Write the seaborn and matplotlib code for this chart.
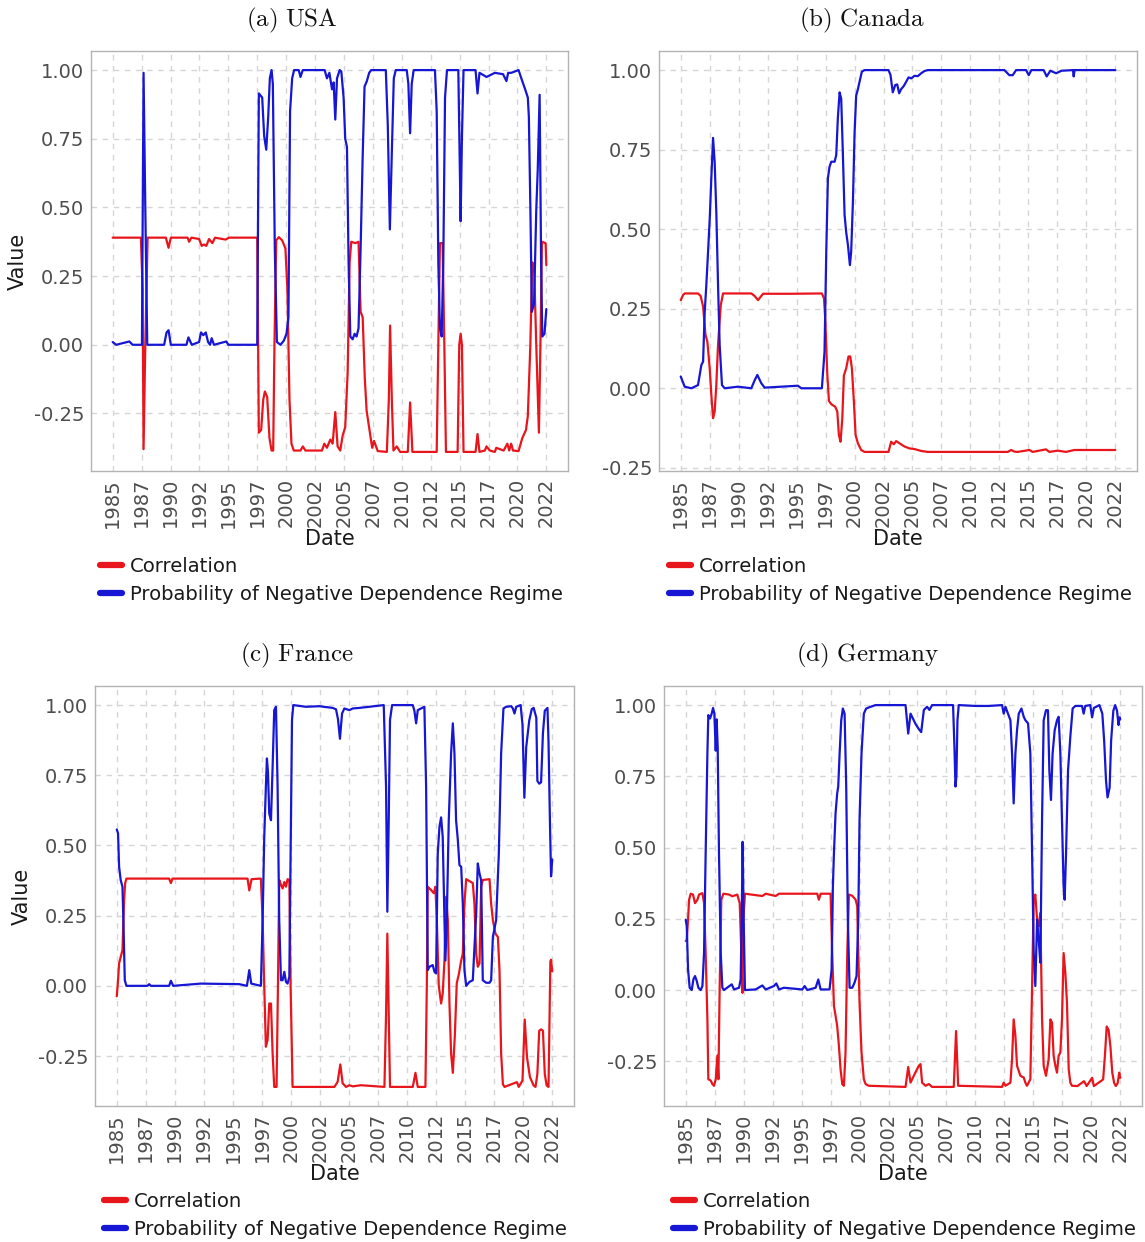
import pandas as pd
import matplotlib
matplotlib.use("Agg")
import matplotlib.pyplot as plt
import seaborn as sns
from matplotlib.lines import Line2D
from matplotlib.ticker import FormatStrFormatter

# Setting plot style
sns.set_style("whitegrid")
plt.rcParams["font.family"] = ["DejaVu Sans"]
plt.rcParams["mathtext.fontset"] = "cm"

# ---------- data: (decimal year, value) ----------

usa_corr = [
    (1985.00, 0.39), (1987.44, 0.39), (1987.59, 0.20), (1987.67, -0.38), (1987.82, 0.00), (1988.02, 0.39),
    (1989.60, 0.39), (1989.83, 0.353), (1990.03, 0.39), (1991.47, 0.39), (1991.61, 0.375), (1991.81, 0.39),
    (1992.47, 0.385), (1992.70, 0.36), (1992.90, 0.365), (1993.10, 0.36), (1993.33, 0.385), (1993.62, 0.37),
    (1993.85, 0.39), (1994.77, 0.383), (1995.06, 0.39), (1997.50, 0.39), (1997.64, -0.32), (1997.84, -0.31),
    (1998.02, -0.20), (1998.16, -0.17), (1998.36, -0.19), (1998.56, -0.34), (1998.74, -0.385), (1998.88, -0.385),
    (1998.99, 0.00), (1999.14, 0.38), (1999.37, 0.392), (1999.66, 0.38), (1999.94, 0.35), (2000.11, 0.20),
    (2000.29, -0.20), (2000.46, -0.36), (2000.66, -0.385), (2001.24, -0.385), (2001.44, -0.37), (2001.67, -0.385),
    (2003.10, -0.385), (2003.30, -0.36), (2003.53, -0.375), (2003.82, -0.345), (2004.02, -0.36), (2004.25, -0.245),
    (2004.45, -0.37), (2004.68, -0.385), (2004.89, -0.33), (2005.11, -0.30), (2005.32, -0.10), (2005.49, 0.30),
    (2005.63, 0.375), (2005.98, 0.37), (2006.26, 0.375), (2006.44, 0.12), (2006.62, 0.10), (2006.80, -0.12),
    (2006.96, -0.24), (2007.28, -0.33), (2007.44, -0.375), (2007.60, -0.35), (2007.92, -0.387), (2008.71, -0.39),
    (2008.88, -0.20), (2008.99, 0.07), (2009.14, -0.20), (2009.28, -0.385), (2009.57, -0.37), (2009.86, -0.39),
    (2010.52, -0.39), (2010.72, -0.21), (2010.92, -0.39), (2013.02, -0.39), (2013.16, 0.00), (2013.30, 0.37),
    (2013.53, 0.37), (2013.68, 0.00), (2013.82, -0.39), (2014.83, -0.39), (2014.97, 0.00), (2015.09, 0.04),
    (2015.20, 0.00), (2015.34, -0.39), (2016.38, -0.39), (2016.55, -0.325), (2016.72, -0.39), (2017.18, -0.385),
    (2017.33, -0.37), (2017.61, -0.385), (2018.05, -0.39), (2018.17, -0.375), (2018.81, -0.385), (2019.13, -0.36),
    (2019.29, -0.385), (2019.46, -0.36), (2019.62, -0.385), (2020.10, -0.387), (2020.42, -0.34), (2020.74, -0.31),
    (2020.90, -0.26), (2021.12, 0.00), (2021.28, 0.30), (2021.44, 0.29), (2021.63, 0.00), (2021.86, -0.32),
    (2021.99, 0.00), (2022.12, 0.375), (2022.44, 0.37), (2022.50, 0.29),
]
usa_prob = [
    (1985.00, 0.01), (1985.30, 0.0), (1986.44, 0.012), (1986.72, 0.0), (1987.53, 0.0), (1987.67, 0.99),
    (1987.82, 0.5), (1987.99, 0.0), (1989.45, 0.0), (1989.66, 0.045), (1989.83, 0.053), (1990.03, 0.0),
    (1991.38, 0.0), (1991.55, 0.027), (1991.84, 0.0), (1992.47, 0.01), (1992.64, 0.045), (1992.84, 0.035),
    (1993.05, 0.045), (1993.25, 0.01), (1993.42, 0.0), (1993.56, 0.024), (1993.76, 0.0), (1994.83, 0.012),
    (1995.00, 0.0), (1997.50, 0.0), (1997.64, 0.915), (1997.93, 0.90), (1998.10, 0.76), (1998.28, 0.71),
    (1998.45, 0.83), (1998.59, 0.97), (1998.74, 1.0), (1998.85, 0.95), (1999.02, 0.35), (1999.20, 0.01),
    (1999.51, 0.0), (1999.80, 0.015), (2000.03, 0.04), (2000.20, 0.10), (2000.34, 0.85), (2000.52, 0.97),
    (2000.69, 1.0), (2001.09, 1.0), (2001.24, 0.975), (2001.44, 1.0), (2003.33, 1.0), (2003.53, 0.97),
    (2003.74, 0.99), (2003.97, 0.93), (2004.11, 0.955), (2004.25, 0.82), (2004.40, 0.97), (2004.63, 1.0),
    (2004.77, 0.995), (2004.97, 0.90), (2005.11, 0.75), (2005.26, 0.72), (2005.40, 0.30), (2005.55, 0.03),
    (2005.75, 0.02), (2005.92, 0.04), (2006.09, 0.03), (2006.26, 0.06), (2006.44, 0.35), (2006.61, 0.67),
    (2006.78, 0.94), (2006.98, 0.96), (2007.18, 0.99), (2007.36, 1.0), (2008.62, 1.0), (2008.79, 0.80),
    (2008.97, 0.42), (2009.14, 0.70), (2009.31, 0.97), (2009.48, 1.0), (2010.43, 1.0), (2010.57, 0.95),
    (2010.72, 0.77), (2010.86, 0.95), (2011.03, 1.0), (2012.87, 1.0), (2013.02, 0.85), (2013.16, 0.30),
    (2013.30, 0.06), (2013.45, 0.03), (2013.59, 0.30), (2013.74, 0.90), (2013.91, 1.0), (2014.89, 1.0),
    (2015.00, 0.70), (2015.09, 0.45), (2015.20, 0.75), (2015.34, 1.0), (2016.38, 1.0), (2016.55, 0.915),
    (2016.72, 0.99), (2017.33, 0.975), (2018.05, 0.99), (2018.76, 0.985), (2019.05, 0.96), (2019.20, 0.99),
    (2019.46, 0.99), (2020.10, 1.0), (2020.42, 0.96), (2020.67, 0.93), (2020.90, 0.90), (2020.99, 0.83),
    (2021.12, 0.50), (2021.25, 0.12), (2021.44, 0.15), (2021.63, 0.49), (2021.76, 0.64), (2021.92, 0.91),
    (2022.05, 0.30), (2022.15, 0.03), (2022.34, 0.04), (2022.50, 0.13),
]

can_corr = [
    (1985.00, 0.277), (1985.20, 0.293), (1985.34, 0.298), (1986.49, 0.298), (1986.72, 0.29), (1986.93, 0.257),
    (1987.13, 0.17), (1987.30, 0.146), (1987.50, 0.063), (1987.64, -0.02), (1987.79, -0.094), (1987.93, -0.073),
    (1988.07, 0.01), (1988.22, 0.136), (1988.45, 0.26), (1988.65, 0.298), (1991.09, 0.298), (1991.38, 0.29),
    (1991.67, 0.277), (1992.10, 0.297), (1994.54, 0.297), (1997.18, 0.298), (1997.36, 0.283), (1997.47, 0.22),
    (1997.64, 0.05), (1997.79, -0.04), (1997.99, -0.05), (1998.33, -0.058), (1998.51, -0.073), (1998.65, -0.147),
    (1998.79, -0.168), (1998.94, -0.097), (1999.08, 0.04), (1999.28, 0.063), (1999.48, 0.10), (1999.63, 0.10),
    (1999.77, 0.063), (1999.94, -0.04), (2000.09, -0.147), (2000.29, -0.173), (2000.57, -0.194), (2000.86, -0.20),
    (2002.93, -0.20), (2003.16, -0.168), (2003.39, -0.176), (2003.59, -0.166), (2003.88, -0.173), (2004.31, -0.183),
    (2004.74, -0.189), (2005.17, -0.191), (2005.75, -0.197), (2006.32, -0.20), (2013.22, -0.20), (2013.51, -0.194),
    (2013.79, -0.199), (2014.08, -0.20), (2015.09, -0.194), (2015.37, -0.20), (2016.52, -0.192), (2016.81, -0.20),
    (2017.53, -0.196), (2018.25, -0.20), (2018.97, -0.194), (2022.50, -0.194),
]
can_prob = [
    (1985.00, 0.037), (1985.34, 0.005), (1985.92, 0.0), (1986.49, 0.01), (1986.78, 0.073), (1986.93, 0.084),
    (1987.07, 0.24), (1987.21, 0.325), (1987.36, 0.43), (1987.50, 0.53), (1987.64, 0.66), (1987.79, 0.787),
    (1987.93, 0.71), (1988.07, 0.555), (1988.22, 0.325), (1988.36, 0.136), (1988.56, 0.01), (1988.79, 0.0),
    (1989.94, 0.005), (1991.09, 0.0), (1991.38, 0.025), (1991.61, 0.042), (1991.95, 0.016), (1992.24, 0.002),
    (1995.11, 0.008), (1995.40, 0.0), (1997.18, 0.0), (1997.41, 0.115), (1997.56, 0.43), (1997.70, 0.66),
    (1997.84, 0.696), (1997.99, 0.712), (1998.28, 0.712), (1998.42, 0.733), (1998.56, 0.85), (1998.71, 0.93),
    (1998.85, 0.91), (1998.99, 0.74), (1999.14, 0.545), (1999.28, 0.49), (1999.43, 0.45), (1999.60, 0.387),
    (1999.71, 0.43), (1999.86, 0.586), (2000.00, 0.80), (2000.14, 0.92), (2000.29, 0.94), (2000.43, 0.963),
    (2000.63, 0.995), (2000.86, 1.0), (2002.93, 1.0), (2003.10, 0.985), (2003.30, 0.93), (2003.51, 0.953),
    (2003.68, 0.955), (2003.85, 0.927), (2004.02, 0.94), (2004.25, 0.95), (2004.45, 0.963), (2004.66, 0.977),
    (2004.89, 0.974), (2005.17, 0.982), (2005.46, 0.981), (2005.75, 0.99), (2006.03, 0.997), (2006.32, 1.0),
    (2012.93, 1.0), (2013.36, 0.984), (2013.65, 0.984), (2013.94, 1.0), (2014.80, 1.0), (2015.03, 0.984),
    (2015.26, 1.0), (2016.32, 1.0), (2016.58, 0.98), (2016.90, 0.998), (2017.39, 0.99), (2017.87, 0.998),
    (2018.39, 0.999), (2018.85, 1.0), (2018.91, 0.98), (2018.99, 1.0), (2022.50, 1.0),
]

fra_corr = [
    (1985.00, -0.037), (1985.11, 0.02), (1985.20, 0.08), (1985.34, 0.103), (1985.49, 0.127), (1985.63, 0.305),
    (1985.72, 0.365), (1985.83, 0.382), (1989.51, 0.382), (1989.66, 0.366), (1989.80, 0.382), (1996.26, 0.382),
    (1996.41, 0.34), (1996.61, 0.38), (1997.41, 0.382), (1997.56, 0.234), (1997.70, 0.0), (1997.84, -0.217),
    (1997.99, -0.193), (1998.13, -0.063), (1998.28, -0.063), (1998.42, -0.24), (1998.56, -0.36), (1998.76, -0.36),
    (1998.88, 0.0), (1998.99, 0.377), (1999.14, 0.36), (1999.28, 0.347), (1999.43, 0.37), (1999.57, 0.353),
    (1999.71, 0.38), (1999.86, 0.377), (1999.97, 0.0), (2000.14, -0.36), (2003.74, -0.36), (2004.02, -0.342),
    (2004.25, -0.28), (2004.45, -0.347), (2004.74, -0.36), (2005.03, -0.354), (2005.32, -0.358), (2006.03, -0.354),
    (2008.05, -0.36), (2008.19, -0.10), (2008.30, 0.186), (2008.42, -0.10), (2008.53, -0.36), (2010.49, -0.36),
    (2010.72, -0.31), (2010.92, -0.36), (2011.58, -0.36), (2011.70, 0.0), (2011.78, 0.353), (2012.07, 0.341),
    (2012.30, 0.33), (2012.44, 0.353), (2012.56, 0.234), (2012.73, 0.0), (2012.93, -0.063), (2013.07, -0.027),
    (2013.22, 0.09), (2013.36, 0.317), (2013.51, 0.234), (2013.65, -0.063), (2013.79, -0.24), (2013.94, -0.31),
    (2014.11, -0.18), (2014.28, 0.01), (2014.45, 0.04), (2014.66, 0.09), (2014.80, 0.115), (2014.94, 0.293),
    (2015.09, 0.38), (2015.66, 0.366), (2015.80, 0.293), (2015.95, 0.115), (2016.09, 0.068), (2016.24, 0.08),
    (2016.38, 0.353), (2016.52, 0.377), (2017.10, 0.38), (2017.24, 0.293), (2017.39, 0.234), (2017.61, 0.186),
    (2017.82, 0.174), (2017.96, 0.055), (2018.10, -0.24), (2018.25, -0.35), (2018.39, -0.36), (2019.46, -0.343),
    (2019.62, -0.36), (2019.94, -0.337), (2020.13, -0.12), (2020.33, -0.255), (2020.58, -0.325), (2020.90, -0.355),
    (2021.06, -0.36), (2021.22, -0.314), (2021.38, -0.16), (2021.54, -0.155), (2021.70, -0.16), (2021.86, -0.314),
    (2022.02, -0.355), (2022.18, -0.36), (2022.34, 0.087), (2022.40, 0.093), (2022.50, 0.052),
]
fra_prob = [
    (1985.00, 0.557), (1985.11, 0.543), (1985.20, 0.424), (1985.34, 0.376), (1985.49, 0.353), (1985.57, 0.234),
    (1985.69, 0.02), (1985.83, 0.0), (1987.64, 0.0), (1987.79, 0.006), (1987.93, 0.0), (1989.51, 0.0),
    (1989.66, 0.018), (1989.86, 0.0), (1992.24, 0.008), (1995.55, 0.006), (1996.21, 0.0), (1996.41, 0.056),
    (1996.58, 0.008), (1997.41, 0.0), (1997.56, 0.234), (1997.70, 0.53), (1997.84, 0.709), (1997.93, 0.81),
    (1998.02, 0.76), (1998.13, 0.614), (1998.28, 0.59), (1998.42, 0.78), (1998.56, 0.982), (1998.71, 0.994),
    (1998.85, 0.709), (1998.99, 0.234), (1999.14, 0.02), (1999.28, 0.02), (1999.43, 0.05), (1999.57, 0.014),
    (1999.71, 0.008), (1999.86, 0.032), (1999.97, 0.47), (2000.09, 0.947), (2000.20, 1.0), (2001.29, 0.994),
    (2002.44, 0.996), (2003.59, 0.99), (2003.88, 0.985), (2004.05, 0.95), (2004.22, 0.88), (2004.40, 0.97),
    (2004.60, 0.988), (2005.03, 0.982), (2005.32, 0.988), (2005.89, 0.99), (2006.75, 0.994), (2007.99, 1.0),
    (2008.19, 0.709), (2008.30, 0.264), (2008.42, 0.59), (2008.53, 0.947), (2008.71, 1.0), (2010.49, 1.0),
    (2010.63, 0.98), (2010.78, 0.935), (2010.92, 0.982), (2011.49, 0.994), (2011.64, 0.709), (2011.78, 0.056),
    (2011.93, 0.068), (2012.21, 0.074), (2012.36, 0.05), (2012.50, 0.044), (2012.64, 0.47), (2012.79, 0.567),
    (2012.93, 0.6), (2013.07, 0.53), (2013.22, 0.234), (2013.30, 0.09), (2013.42, 0.234), (2013.59, 0.59),
    (2013.79, 0.828), (2013.94, 0.935), (2014.08, 0.828), (2014.22, 0.59), (2014.37, 0.52), (2014.51, 0.43),
    (2014.66, 0.424), (2014.80, 0.293), (2014.94, 0.056), (2015.09, 0.0), (2015.37, 0.014), (2015.66, 0.02),
    (2015.95, 0.258), (2016.09, 0.436), (2016.24, 0.40), (2016.38, 0.376), (2016.52, 0.02), (2016.81, 0.011),
    (2017.10, 0.011), (2017.24, 0.02), (2017.39, 0.175), (2017.67, 0.234), (2017.90, 0.47), (2018.10, 0.828),
    (2018.30, 0.988), (2018.53, 0.994), (2018.97, 0.996), (2019.11, 0.988), (2019.25, 0.97), (2019.40, 0.994),
    (2019.78, 1.0), (2019.94, 0.93), (2020.10, 0.67), (2020.26, 0.85), (2020.52, 0.945), (2020.74, 0.986),
    (2020.90, 0.99), (2021.13, 0.955), (2021.22, 0.73), (2021.38, 0.72), (2021.54, 0.725), (2021.70, 0.9),
    (2021.86, 0.98), (2022.09, 0.99), (2022.18, 0.87), (2022.31, 0.57), (2022.40, 0.39), (2022.50, 0.45),
]

ger_corr = [
    (1985.00, 0.172), (1985.09, 0.177), (1985.20, 0.247), (1985.29, 0.317), (1985.43, 0.338), (1985.63, 0.335),
    (1985.80, 0.305), (1986.01, 0.317), (1986.15, 0.335), (1986.44, 0.34), (1986.58, 0.305), (1986.72, 0.13),
    (1986.87, -0.103), (1986.95, -0.313), (1987.16, -0.318), (1987.30, -0.33), (1987.44, -0.336), (1987.59, -0.313),
    (1987.73, -0.23), (1987.82, -0.313), (1987.93, 0.014), (1988.07, 0.317), (1988.25, 0.338), (1988.74, 0.335),
    (1989.02, 0.329), (1989.45, 0.335), (1989.66, 0.305), (1989.80, 0.13), (1989.89, -0.01), (1989.97, 0.247),
    (1990.11, 0.338), (1991.61, 0.33), (1991.90, 0.338), (1992.76, 0.33), (1993.05, 0.338), (1996.35, 0.338),
    (1996.49, 0.317), (1996.64, 0.338), (1997.50, 0.338), (1997.64, 0.13), (1997.79, -0.056), (1997.93, -0.09),
    (1998.07, -0.126), (1998.22, -0.196), (1998.36, -0.278), (1998.51, -0.33), (1998.65, -0.336), (1998.79, -0.219),
    (1998.94, 0.13), (1999.08, 0.335), (1999.37, 0.331), (1999.66, 0.317), (1999.80, 0.294), (1999.89, 0.13),
    (2000.00, -0.044), (2000.17, -0.219), (2000.37, -0.313), (2000.52, -0.33), (2000.80, -0.336), (2003.97, -0.34),
    (2004.20, -0.27), (2004.40, -0.325), (2004.68, -0.301), (2005.11, -0.266), (2005.26, -0.26), (2005.40, -0.325),
    (2005.69, -0.336), (2005.98, -0.33), (2006.26, -0.34), (2008.13, -0.34), (2008.33, -0.144), (2008.51, -0.336),
    (2012.30, -0.34), (2012.44, -0.325), (2012.59, -0.336), (2013.02, -0.325), (2013.16, -0.243), (2013.30, -0.103),
    (2013.45, -0.161), (2013.59, -0.266), (2013.88, -0.301), (2014.17, -0.307), (2014.31, -0.325), (2014.45, -0.336),
    (2014.74, -0.313), (2014.89, 0.014), (2015.03, 0.317), (2015.17, 0.335), (2015.32, 0.247), (2015.46, 0.224),
    (2015.60, 0.27), (2015.75, -0.10), (2015.89, -0.266), (2016.09, -0.301), (2016.32, -0.243), (2016.47, -0.103),
    (2016.61, -0.114), (2016.75, -0.231), (2016.90, -0.266), (2017.04, -0.29), (2017.18, -0.231), (2017.33, -0.219),
    (2017.47, -0.103), (2017.61, 0.13), (2017.76, 0.06), (2017.90, -0.044), (2018.05, -0.278), (2018.19, -0.325),
    (2018.33, -0.336), (2018.80, -0.337), (2019.37, -0.32), (2019.60, -0.337), (2020.07, -0.308), (2020.22, -0.337),
    (2021.02, -0.314), (2021.17, -0.233), (2021.33, -0.128), (2021.49, -0.14), (2021.65, -0.198), (2021.81, -0.29),
    (2021.97, -0.326), (2022.12, -0.337), (2022.28, -0.326), (2022.41, -0.29), (2022.50, -0.308),
]
ger_prob = [
    (1985.00, 0.247), (1985.09, 0.224), (1985.20, 0.072), (1985.34, 0.008), (1985.52, 0.0), (1985.66, 0.037),
    (1985.80, 0.049), (1985.95, 0.032), (1986.09, 0.008), (1986.29, 0.0), (1986.44, 0.014), (1986.58, 0.13),
    (1986.72, 0.48), (1986.87, 0.83), (1986.95, 0.965), (1987.10, 0.953), (1987.24, 0.97), (1987.36, 0.99),
    (1987.47, 0.97), (1987.59, 0.84), (1987.67, 0.95), (1987.76, 0.85), (1987.87, 0.48), (1988.02, 0.13),
    (1988.16, 0.008), (1988.30, 0.0), (1988.97, 0.02), (1989.17, 0.002), (1989.60, 0.008), (1989.74, 0.037),
    (1989.83, 0.247), (1989.91, 0.52), (1990.00, 0.247), (1990.11, 0.0), (1991.03, 0.002), (1991.61, 0.016),
    (1991.90, 0.002), (1992.61, 0.014), (1992.82, 0.023), (1993.05, 0.002), (1993.48, 0.008), (1995.06, 0.002),
    (1995.26, 0.014), (1995.49, 0.0), (1996.21, 0.008), (1996.44, 0.037), (1996.64, 0.002), (1997.41, 0.002),
    (1997.59, 0.072), (1997.70, 0.364), (1997.79, 0.48), (1997.93, 0.62), (1998.07, 0.69), (1998.16, 0.714),
    (1998.28, 0.83), (1998.42, 0.947), (1998.56, 0.988), (1998.71, 0.97), (1998.85, 0.714), (1998.99, 0.247),
    (1999.14, 0.008), (1999.37, 0.008), (1999.57, 0.026), (1999.74, 0.049), (1999.89, 0.247), (2000.00, 0.6),
    (2000.17, 0.83), (2000.37, 0.97), (2000.57, 0.988), (2000.95, 0.994), (2001.38, 1.0), (2003.97, 1.0),
    (2004.20, 0.9), (2004.40, 0.97), (2004.60, 0.953), (2004.83, 0.934), (2005.11, 0.916), (2005.32, 0.905),
    (2005.55, 0.983), (2005.83, 0.994), (2006.03, 0.983), (2006.26, 1.0), (2008.07, 1.0), (2008.19, 0.85),
    (2008.28, 0.714), (2008.36, 0.75), (2008.45, 0.947), (2008.56, 1.0), (2010.00, 0.997), (2011.15, 0.997),
    (2012.30, 1.0), (2012.44, 0.97), (2012.59, 0.994), (2013.02, 0.947), (2013.16, 0.83), (2013.30, 0.655),
    (2013.45, 0.83), (2013.59, 0.912), (2013.74, 0.97), (2013.97, 0.988), (2014.17, 0.959), (2014.31, 0.947),
    (2014.54, 0.936), (2014.74, 0.83), (2014.89, 0.48), (2015.03, 0.13), (2015.17, 0.014), (2015.32, 0.247),
    (2015.46, 0.177), (2015.60, 0.096), (2015.75, 0.6), (2015.89, 0.947), (2016.09, 0.982), (2016.26, 0.982),
    (2016.38, 0.77), (2016.52, 0.667), (2016.66, 0.83), (2016.84, 0.912), (2017.04, 0.947), (2017.18, 0.959),
    (2017.33, 0.83), (2017.47, 0.6), (2017.61, 0.364), (2017.70, 0.317), (2017.82, 0.48), (2017.99, 0.77),
    (2018.19, 0.889), (2018.39, 0.988), (2018.62, 0.997), (2019.20, 0.997), (2019.34, 0.97), (2019.48, 0.997),
    (2019.91, 1.0), (2020.07, 0.957), (2020.22, 0.99), (2020.70, 1.0), (2020.95, 0.97), (2021.11, 0.875),
    (2021.27, 0.735), (2021.40, 0.676), (2021.58, 0.71), (2021.71, 0.875), (2021.90, 0.98), (2022.06, 1.0),
    (2022.22, 0.98), (2022.35, 0.93), (2022.44, 0.957), (2022.50, 0.95),
]

titles = ["(a) USA", "(b) Canada", "(c) France", "(d) Germany"]
series_names = ["Correlation", "Probability of Negative Dependence Regime"]
year_ticks = [1985 + 2.5 * k for k in range(16)]
year_labels = [str(int(t)) for t in year_ticks]
value_ticks = [-0.25, 0.0, 0.25, 0.50, 0.75, 1.00]

RED = "#e8161c"
BLUE = "#1616d4"
palette = {series_names[0]: RED, series_names[1]: BLUE}

# ---------- layout (pixels) ----------
W, H = 1145, 1242
fig = plt.figure(figsize=(W / 100, H / 100), dpi=100)

# axes boxes: left, top, right, bottom
boxes = [(91, 51, 568, 471), (659, 51, 1137, 471), (95, 686, 574, 1106), (664, 686, 1142, 1106)]
title_pos = [(292, 20), (862, 20), (297, 655), (867, 655)]
legend_pos = [(100, 557), (669, 557), (104, 1192), (673, 1192)]
data_sets = [(usa_corr, usa_prob), (can_corr, can_prob), (fra_corr, fra_prob), (ger_corr, ger_prob)]

for i, (corr, prob) in enumerate(data_sets):
    l, t, r, b = boxes[i]
    ax = fig.add_axes([l / W, 1 - b / H, (r - l) / W, (b - t) / H])

    df = pd.concat([
        pd.DataFrame(corr, columns=["Date", "Value"]).assign(Series=series_names[0]),
        pd.DataFrame(prob, columns=["Date", "Value"]).assign(Series=series_names[1]),
    ])
    sns.lineplot(data=df, x="Date", y="Value", hue="Series", palette=palette,
                 estimator=None, linewidth=1.6, legend=False, ax=ax)

    ax.set_xticks(year_ticks)
    ax.set_xticklabels(year_labels, rotation=90)
    ax.set_yticks(value_ticks)
    ax.yaxis.set_major_formatter(FormatStrFormatter("%.2f"))

    ax.grid(True, color="#d6d6d6", linestyle=(0, (4, 4)), linewidth=1.0)
    for s in ax.spines.values():
        s.set_color("#b3b3b3")
        s.set_linewidth(1.0)
    ax.tick_params(axis="both", colors="#b3b3b3", labelcolor="#4d4d4d",
                   labelsize=14, length=3, width=1, pad=2)

    ax.set_xlabel("Date", fontsize=15, color="#1a1a1a")
    ax.xaxis.set_label_coords(0.5, -0.138)
    if i % 2 == 0:
        ax.set_ylabel("Value", fontsize=15, color="#1a1a1a")
        ax.yaxis.set_label_coords(-0.132, 0.5)
    else:
        ax.set_ylabel("")

    # title above each panel (LaTeX-like serif)
    tx, ty = title_pos[i]
    fig.text(tx / W, 1 - ty / H, r"$\mathrm{" + titles[i].replace(" ", r"\ ") + "}$",
             ha="center", va="center", fontsize=18, color="#111111")

    handles = [Line2D([], [], color=RED, lw=4.5), Line2D([], [], color=BLUE, lw=4.5)]
    lx, ly = legend_pos[i]
    leg = ax.legend(handles, series_names, loc="upper left",
                    bbox_to_anchor=(lx / W, 1 - ly / H), bbox_transform=fig.transFigure,
                    frameon=False, fontsize=14.1, handlelength=1.1, handletextpad=0.45,
                    labelspacing=0.44, borderpad=0, borderaxespad=0)
    for txt in leg.get_texts():
        txt.set_color("#1a1a1a")

fig.savefig("out.png", dpi=100)
